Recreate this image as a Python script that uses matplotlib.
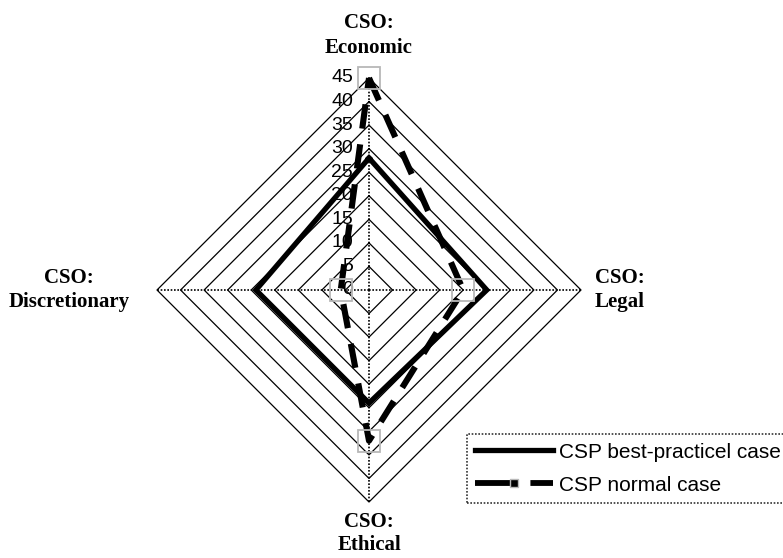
import numpy as np
import matplotlib
matplotlib.use('Agg')
import matplotlib.pyplot as plt
from matplotlib.lines import Line2D

# Data
categories  = ['CSO:\nEconomic', 'CSO:\nLegal', 'CSO:\nEthical', 'CSO:\nDiscretionary']
best_case   = [28, 25, 24, 24]
normal_case = [45, 20, 32, 6]
scale_ticks = [0, 5, 10, 15, 20, 25, 30, 35, 40, 45]
series_names = ['CSP best-practicel case', 'CSP normal case']

r_max = 45
# spoke directions: top, right, bottom, left
angles = np.deg2rad([90, 0, -90, 180])

def to_xy(vals, close=True):
    r = np.asarray(vals, dtype=float)
    x, y = r * np.cos(angles), r * np.sin(angles)
    if close:
        x, y = np.append(x, x[0]), np.append(y, y[0])
    return x, y

fig = plt.figure(figsize=(7.83, 5.58), dpi=100)
ax = fig.add_axes([0, 0, 1, 1])
ax.axis('off')

# pixel scale: 45 units = 212 px, centre at (369, 290) px
k = r_max / 212.0
ax.set_xlim(-369 * k, 414 * k)
ax.set_ylim(-268 * k, 290 * k)

# diamond grid rings
for v in scale_ticks[1:]:
    gx, gy = to_xy([v] * 4)
    ax.plot(gx, gy, color='black', lw=0.9, zorder=1)

# dotted spokes
for a in angles:
    ax.plot([0, r_max * np.cos(a)], [0, r_max * np.sin(a)], color='black',
            lw=1.2, ls=(0, (1, 1)), zorder=1)

# scale labels along the top spoke
for t in scale_ticks:
    ax.text(-16 * k, t, str(t), ha='right', va='center', fontsize=14,
            family='Liberation Sans', zorder=2)

# category labels
label_pos = [(0, 54.0), (53.3, 0), (0, -51.6), (-63.7, 0)]
for lab, (lx, ly) in zip(categories, label_pos):
    ax.text(lx, ly, lab, ha='center', va='center', fontsize=15,
            family='Liberation Serif', fontweight='bold',
            linespacing=1.2 if 'Ethical' in lab else 1.3)

# series
bx, by = to_xy(best_case)
ax.plot(bx, by, color='black', lw=3.8, solid_joinstyle='miter', zorder=3)

nx, ny = to_xy(normal_case)
ax.plot(nx, ny, color='black', lw=4.4, dashes=(4, 2.6), dash_capstyle='butt', zorder=4)
mx, my = to_xy(normal_case, close=False)
ax.plot(mx, my, ls='none', marker='s', ms=16, mfc='none', mec='#b8b8b8', mew=1.3, zorder=5)

# legend
handles = [
    Line2D([], [], color='black', lw=3.8),
    Line2D([], [], color='black', lw=4.2, dashes=(6, 3.5), marker='s', ms=6,
           mfc='black', mec='#b8b8b8', mew=1),
]
leg = ax.legend(handles, series_names, loc='lower left',
                bbox_to_anchor=(467 / 783, 55 / 558), bbox_transform=fig.transFigure,
                prop={'family': 'Liberation Sans', 'size': 15}, frameon=True,
                fancybox=False, borderpad=0.4, handlelength=3.75, handletextpad=0.25,
                labelspacing=0.68, numpoints=1, borderaxespad=0)
frame = leg.get_frame()
frame.set_edgecolor('black')
frame.set_linestyle((0, (1, 1)))
frame.set_linewidth(1.2)

fig.savefig('out.png', dpi=100)
